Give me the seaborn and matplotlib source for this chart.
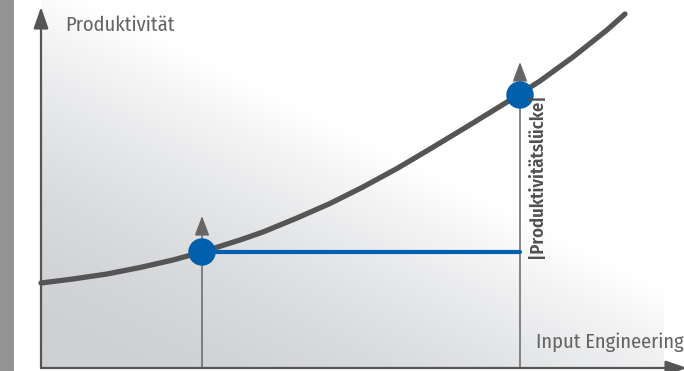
import numpy as np
import pandas as pd
import matplotlib
matplotlib.use("Agg")
import matplotlib.pyplot as plt
from matplotlib import font_manager
import seaborn as sns

# ---- data (chart units: origin at the axes corner) ----
curve_x = [0, 32, 66, 99, 132, 161, 199, 222, 256, 289, 322, 356, 389, 432, 466, 499, 532, 566, 584]
curve_y = [85, 89, 94, 100.5, 108, 116, 128, 136, 150, 164.5, 181, 199.5, 219, 245, 266, 287, 311, 338, 354]
points_x = [161, 479]
points_y = [116, 273]
arrow_tips = [152, 306]
x_label = "Input Engineering"
y_label = "Produktivität"
gap_label = "|Produktivitätslücke|"

sns.set_style("white")
names = {f.name for f in font_manager.fontManager.ttflist}
main_font = "Fira Sans Condensed" if "Fira Sans Condensed" in names else "DejaVu Sans"
plt.rcParams["font.family"] = [main_font, "DejaVu Sans"]

fig = plt.figure(figsize=(6.84, 3.71), dpi=100)
ax = fig.add_axes([0, 0, 1, 1])

# left grey bar
ax.axvspan(-41, -27, color="#939393", zorder=0, lw=0)

# background gradient
gx = np.linspace(0, 623, 312)
gy = np.linspace(0, 368, 185)
GX, GY = np.meshgrid(gx, gy)
T = GX + 2.0 * GY
frac = np.clip((T - 60) / 720, 0, 1) ** 1.6
dark = np.array([206, 208, 211]) / 255.0
img = dark[None, None, :] + (1 - dark[None, None, :]) * frac[:, :, None]
ax.imshow(img, extent=[0, 623, 0, 368], origin="lower", aspect="auto", zorder=0.5,
          interpolation="bilinear")

# vertical guide arrows
for px, tip in zip(points_x, arrow_tips):
    ax.annotate("", xy=(px, tip), xytext=(px, 0), annotation_clip=False,
                arrowprops=dict(arrowstyle="-|>,head_length=1.2,head_width=0.45",
                                color="#666666", lw=1.1, shrinkA=0, shrinkB=0,
                                mutation_scale=10), zorder=2)

# axes arrows
ax.annotate("", xy=(0, 361), xytext=(0, 0), annotation_clip=False,
            arrowprops=dict(arrowstyle="-|>,head_length=1.3,head_width=0.45",
                            color="#555555", lw=1.6, shrinkA=0, shrinkB=0,
                            mutation_scale=10), zorder=3)
ax.annotate("", xy=(646, 0), xytext=(0, 0), annotation_clip=False,
            arrowprops=dict(arrowstyle="-|>,head_length=1.3,head_width=0.45",
                            color="#555555", lw=1.6, shrinkA=0, shrinkB=0,
                            mutation_scale=10), zorder=3)

# horizontal gap line
gap = pd.DataFrame({"x": points_x, "y": [points_y[0], points_y[0]]})
sns.lineplot(data=gap, x="x", y="y", ax=ax, color="#0060ae", lw=3.0, zorder=3,
             sort=False, estimator=None)

# productivity curve
curve = pd.DataFrame({"x": curve_x, "y": curve_y})
sns.lineplot(data=curve, x="x", y="y", ax=ax, color="#555555", lw=3.8, zorder=4,
             sort=False, estimator=None, solid_capstyle="round", solid_joinstyle="round")

# points
pts = pd.DataFrame({"x": points_x, "y": points_y})
sns.scatterplot(data=pts, x="x", y="y", ax=ax, color="#0060ae", s=390,
                edgecolor="none", zorder=5)

ax.set_xlim(-41, 643)
ax.set_ylim(-3, 368)
ax.axis("off")

# texts
t1 = ax.text(24, 343, y_label, color="#646464", fontsize=13, fontweight="normal",
             ha="left", va="center", zorder=6)
t2 = ax.text(643, 26, x_label, color="#646464", fontsize=13, fontweight="normal",
             ha="right", va="center", zorder=6)
t3 = ax.text(496, 192, gap_label, color="#505050", fontsize=11, fontweight="semibold",
             rotation=90, ha="center", va="center", zorder=6)

# fit font sizes to the label extents of the reference
fig.canvas.draw()
r = fig.canvas.get_renderer()
for t, target, horiz in ((t1, 110, True), (t2, 149, True), (t3, 165, False)):
    bb = t.get_window_extent(r)
    cur = bb.width if horiz else bb.height
    t.set_fontsize(t.get_fontsize() * target / cur)

fig.savefig("out.png", dpi=100)
